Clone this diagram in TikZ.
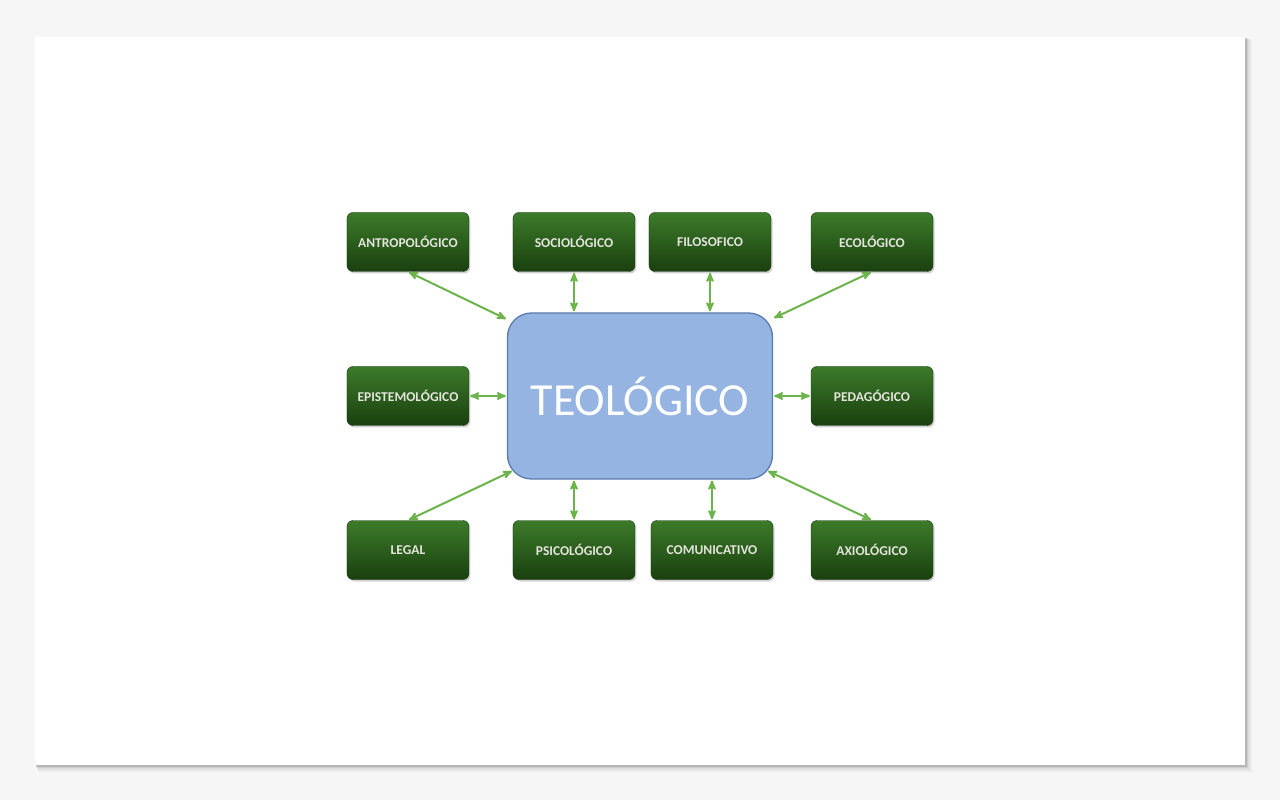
\documentclass[tikz,border=0pt]{standalone}
\usepackage{fontspec}
\setmainfont{Carlito}
\usepackage{xcolor}
\usetikzlibrary{arrows, positioning, shadows}

\definecolor{pagebg}{HTML}{F6F6F6}
\definecolor{boxtop}{HTML}{3C7A2A}
\definecolor{boxbot}{HTML}{1A400F}
\definecolor{boxedge}{HTML}{173A0E}
\definecolor{boxtext}{HTML}{E4E4DC}
\definecolor{corefill}{HTML}{95B4E2}
\definecolor{coreedge}{HTML}{5A7BB2}
\definecolor{linkgreen}{HTML}{6CB34C}

\begin{document}
\begin{tikzpicture}[x=1pt,y=1pt,node distance=154pt,on grid,>=stealth']
    \tikzstyle{area}=[shape=rectangle,rounded corners=6pt,draw=boxedge,thin,top color=boxtop,bottom color=boxbot,
        minimum width=122pt,minimum height=59pt,text=boxtext,font=\bfseries\fontsize{13.5}{15}\selectfont,
        drop shadow={shadow xshift=1.5pt,shadow yshift=-2pt,opacity=0.35}]
    \tikzstyle{core}=[shape=rectangle,rounded corners=24pt,draw=coreedge,line width=1.3pt,fill=corefill,
        minimum width=265pt,minimum height=166pt,text=white,font=\fontsize{46}{50}\selectfont]
    \tikzstyle{link}=[<->,draw,line width=2pt,linkgreen,shorten >=1pt,shorten <=1pt]

    % page and card
    \useasboundingbox (-640,-400) rectangle (640,400);
    \fill[pagebg] (-640,-400) rectangle (640,400);
    \foreach \d/\o in {7/0.04,5/0.06,3/0.08,1.5/0.10}
        \fill[black,opacity=\o] (-605+0.4*\d,-365-\d) rectangle (605+\d,363-0.4*\d);
    \fill[white] (-605,-365) rectangle (605,363);

    \node[core] (teo) at (0,4) {TEOLÓGICO};

    \node[area, above left=154pt and 232pt of teo] (antro) {ANTROPOLÓGICO};
    \node[area, above left=154pt and 66pt of teo] (socio) {SOCIOLÓGICO};
    \node[area, above right=154pt and 70pt of teo] (filo) {FILOSOFICO};
    \node[area, above right=154pt and 232pt of teo] (eco) {ECOLÓGICO};

    \node[area, left=232pt of teo] (episte) {EPISTEMOLÓGICO};
    \node[area, right=232pt of teo] (peda) {PEDAGÓGICO};

    \node[area, below left=154pt and 232pt of teo] (legal) {LEGAL};
    \node[area, below left=154pt and 66pt of teo] (psico) {PSICOLÓGICO};
    \node[area, below right=154pt and 72pt of teo] (comun) {COMUNICATIVO};
    \node[area, below right=154pt and 232pt of teo] (axio) {AXIOLÓGICO};

    \path[every edge/.style=link]
    (antro.south) edge ([yshift=-7pt]teo.north west)
    (socio.south) edge (socio.south |- teo.north)
    (filo.south) edge (filo.south |- teo.north)
    (eco.south) edge ([yshift=-6pt]teo.north east)

    (episte.east) edge (teo.west)
    (peda.west) edge (teo.east)

    (legal.north) edge ([xshift=6pt,yshift=9pt]teo.south west)
    (psico.north) edge (psico.north |- teo.south)
    (comun.north) edge (comun.north |- teo.south)
    (axio.north) edge ([xshift=-6pt,yshift=9pt]teo.south east)
	;

\end{tikzpicture}
\end{document}
